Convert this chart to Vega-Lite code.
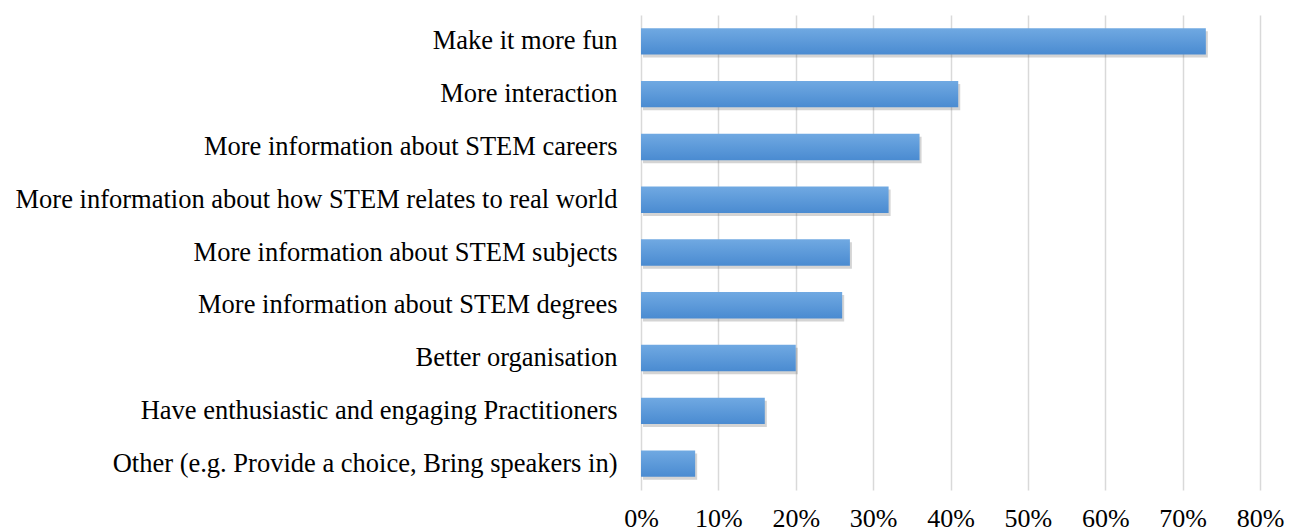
{
  "$schema": "https://vega.github.io/schema/vega-lite/v6.json",
  "autosize": "none",
  "width": 619,
  "height": 475,
  "padding": {"left": 641, "top": 15, "right": 38, "bottom": 42},
  "background": "white",
  "data": {"values": [
    {"item": "Make it more fun", "pct": 0.73},
    {"item": "More interaction", "pct": 0.41},
    {"item": "More information about STEM careers", "pct": 0.36},
    {"item": "More information about how STEM relates to real world", "pct": 0.32},
    {"item": "More information about STEM subjects", "pct": 0.27},
    {"item": "More information about STEM degrees", "pct": 0.26},
    {"item": "Better organisation", "pct": 0.20},
    {"item": "Have enthusiastic and engaging Practitioners", "pct": 0.16},
    {"item": "Other (e.g. Provide a choice, Bring speakers in)", "pct": 0.07}
  ]},
  "encoding": {
    "y": {"field": "item", "type": "nominal", "sort": null, "title": null,
      "scale": {"paddingInner": 0.5, "paddingOuter": 0.25},
      "axis": {"ticks": false, "domain": false, "labelFont": "Liberation Serif", "labelFontSize": 26.5, "labelColor": "#000000", "labelPadding": 24, "labelLimit": 700}},
    "x": {"field": "pct", "type": "quantitative", "title": null,
      "scale": {"domain": [0, 0.8], "nice": false},
      "axis": {"format": ".0%", "values": [0, 0.1, 0.2, 0.3, 0.4, 0.5, 0.6, 0.7, 0.8], "ticks": false, "domain": false, "grid": true, "gridColor": "#d9d9d9", "gridWidth": 1.5, "labelFont": "Liberation Serif", "labelFontSize": 26, "labelColor": "#000000", "labelPadding": 15, "labelFlush": false, "labelOverlap": false}}
  },
  "layer": [
    {"mark": {"type": "bar", "color": "#555555", "opacity": 0.25, "xOffset": 2, "yOffset": 3}},
    {"mark": {"type": "bar", "color": {"gradient": "linear", "x1": 0, "y1": 0, "x2": 0, "y2": 1, "stops": [{"offset": 0, "color": "#70a9e2"}, {"offset": 1, "color": "#4a8bd1"}]}}}
  ],
  "config": {"view": {"stroke": null}}
}
